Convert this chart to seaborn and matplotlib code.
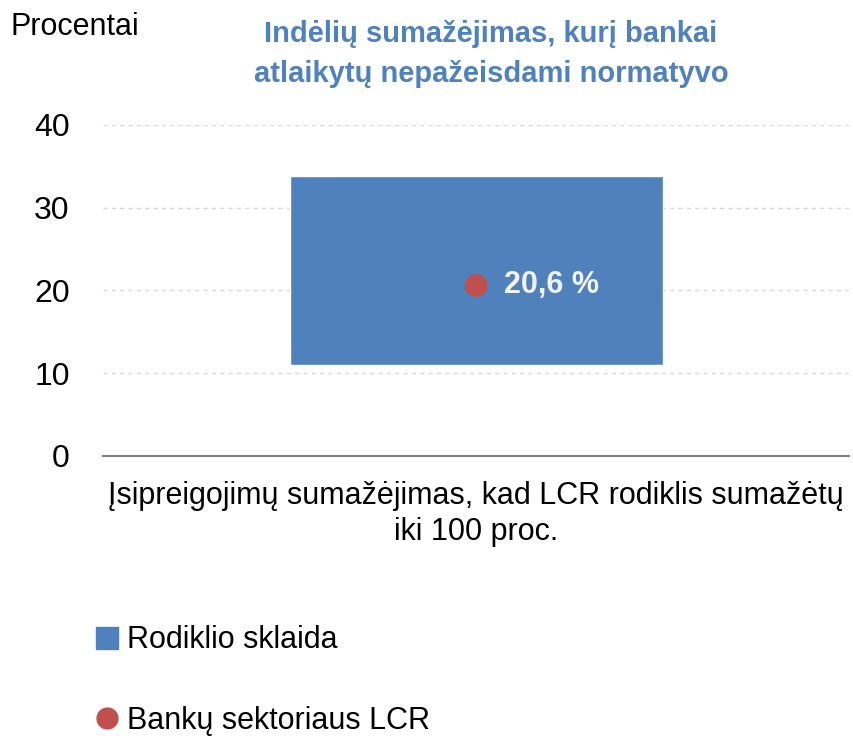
import matplotlib
matplotlib.use("Agg")
import matplotlib.pyplot as plt
import seaborn as sns
import pandas as pd
from matplotlib.lines import Line2D

categories = ["Įsipreigojimų sumažėjimas, kad LCR rodiklis sumažėtų\niki 100 proc."]
range_low = [11.0]
range_high = [33.8]
sector_lcr = [20.6]
yticks = [0, 10, 20, 30, 40]
title = "Indėlių sumažėjimas, kurį bankai\natlaikytų nepažeisdami normatyvo"
ylabel = "Procentai"
legend_labels = ["Rodiklio sklaida", "Bankų sektoriaus LCR"]
point_label = "20,6 %"

sns.set_theme(style="white")
FAM = ["Liberation Sans", "DejaVu Sans"]
plt.rcParams["font.family"] = FAM
plt.rcParams["text.color"] = "black"

BLUE = "#4F81BD"
RED = "#C0504D"

df = pd.DataFrame({
    "cat": categories,
    "span": [h - l for h, l in zip(range_high, range_low)],
    "low": range_low,
    "lcr": sector_lcr,
})

fig = plt.figure(figsize=(8.54, 7.39), dpi=100)
ax = fig.add_axes([0.1206, 0.383, 0.874, 0.448])

sns.barplot(data=df, x="cat", y="span", bottom=df["low"].values, color=BLUE,
            width=1.0, saturation=1, ax=ax, zorder=2)
sns.scatterplot(data=df, x="cat", y="lcr", color=RED, s=270, edgecolor="none",
                ax=ax, zorder=3)
for i, v in enumerate(sector_lcr):
    ax.text(i + 0.075, v, point_label, color="#F2F2F2", fontsize=22,
            fontweight="bold", va="center", ha="left", zorder=4)

ax.set_xlim(-1.0, 1.0)
ax.set_ylim(0, 40)
ax.set_yticks(yticks)
ax.set_yticklabels([str(t) for t in yticks], fontsize=23, color="black")
ax.tick_params(axis="y", length=0, pad=24)
ax.tick_params(axis="x", length=0, pad=18)
for lab in ax.get_xticklabels():
    lab.set_fontsize(22)
    lab.set_color("black")
    lab.set_linespacing(1.25)
ax.set_xlabel("")
ax.set_ylabel("")
ax.yaxis.grid(True, linestyle=(0, (3, 3)), color="#D9D9D9", linewidth=1)
ax.xaxis.grid(False)
for s in ["top", "right", "left"]:
    ax.spines[s].set_visible(False)
ax.spines["bottom"].set_color("#808080")
ax.spines["bottom"].set_linewidth(1.5)
ax.set_axisbelow(True)

fig.text(0.012, 0.963, ylabel, fontsize=22, ha="left", va="center", color="black")
fig.text(0.575, 0.927, title, fontsize=21, fontweight="bold", color=BLUE,
         ha="center", va="center", linespacing=1.55)

handles = [
    Line2D([], [], marker="s", linestyle="none", color=BLUE, markersize=15.5),
    Line2D([], [], marker="o", linestyle="none", color=RED, markersize=15),
]
fig.legend(handles, legend_labels, loc="center left", bbox_to_anchor=(0.111, 0.079),
           frameon=False, handletextpad=0.25, labelspacing=1.65,
           handlelength=0.8, borderaxespad=0, borderpad=0,
           prop={"size": 22}, labelcolor="black")

fig.savefig("out.png", dpi=100)
